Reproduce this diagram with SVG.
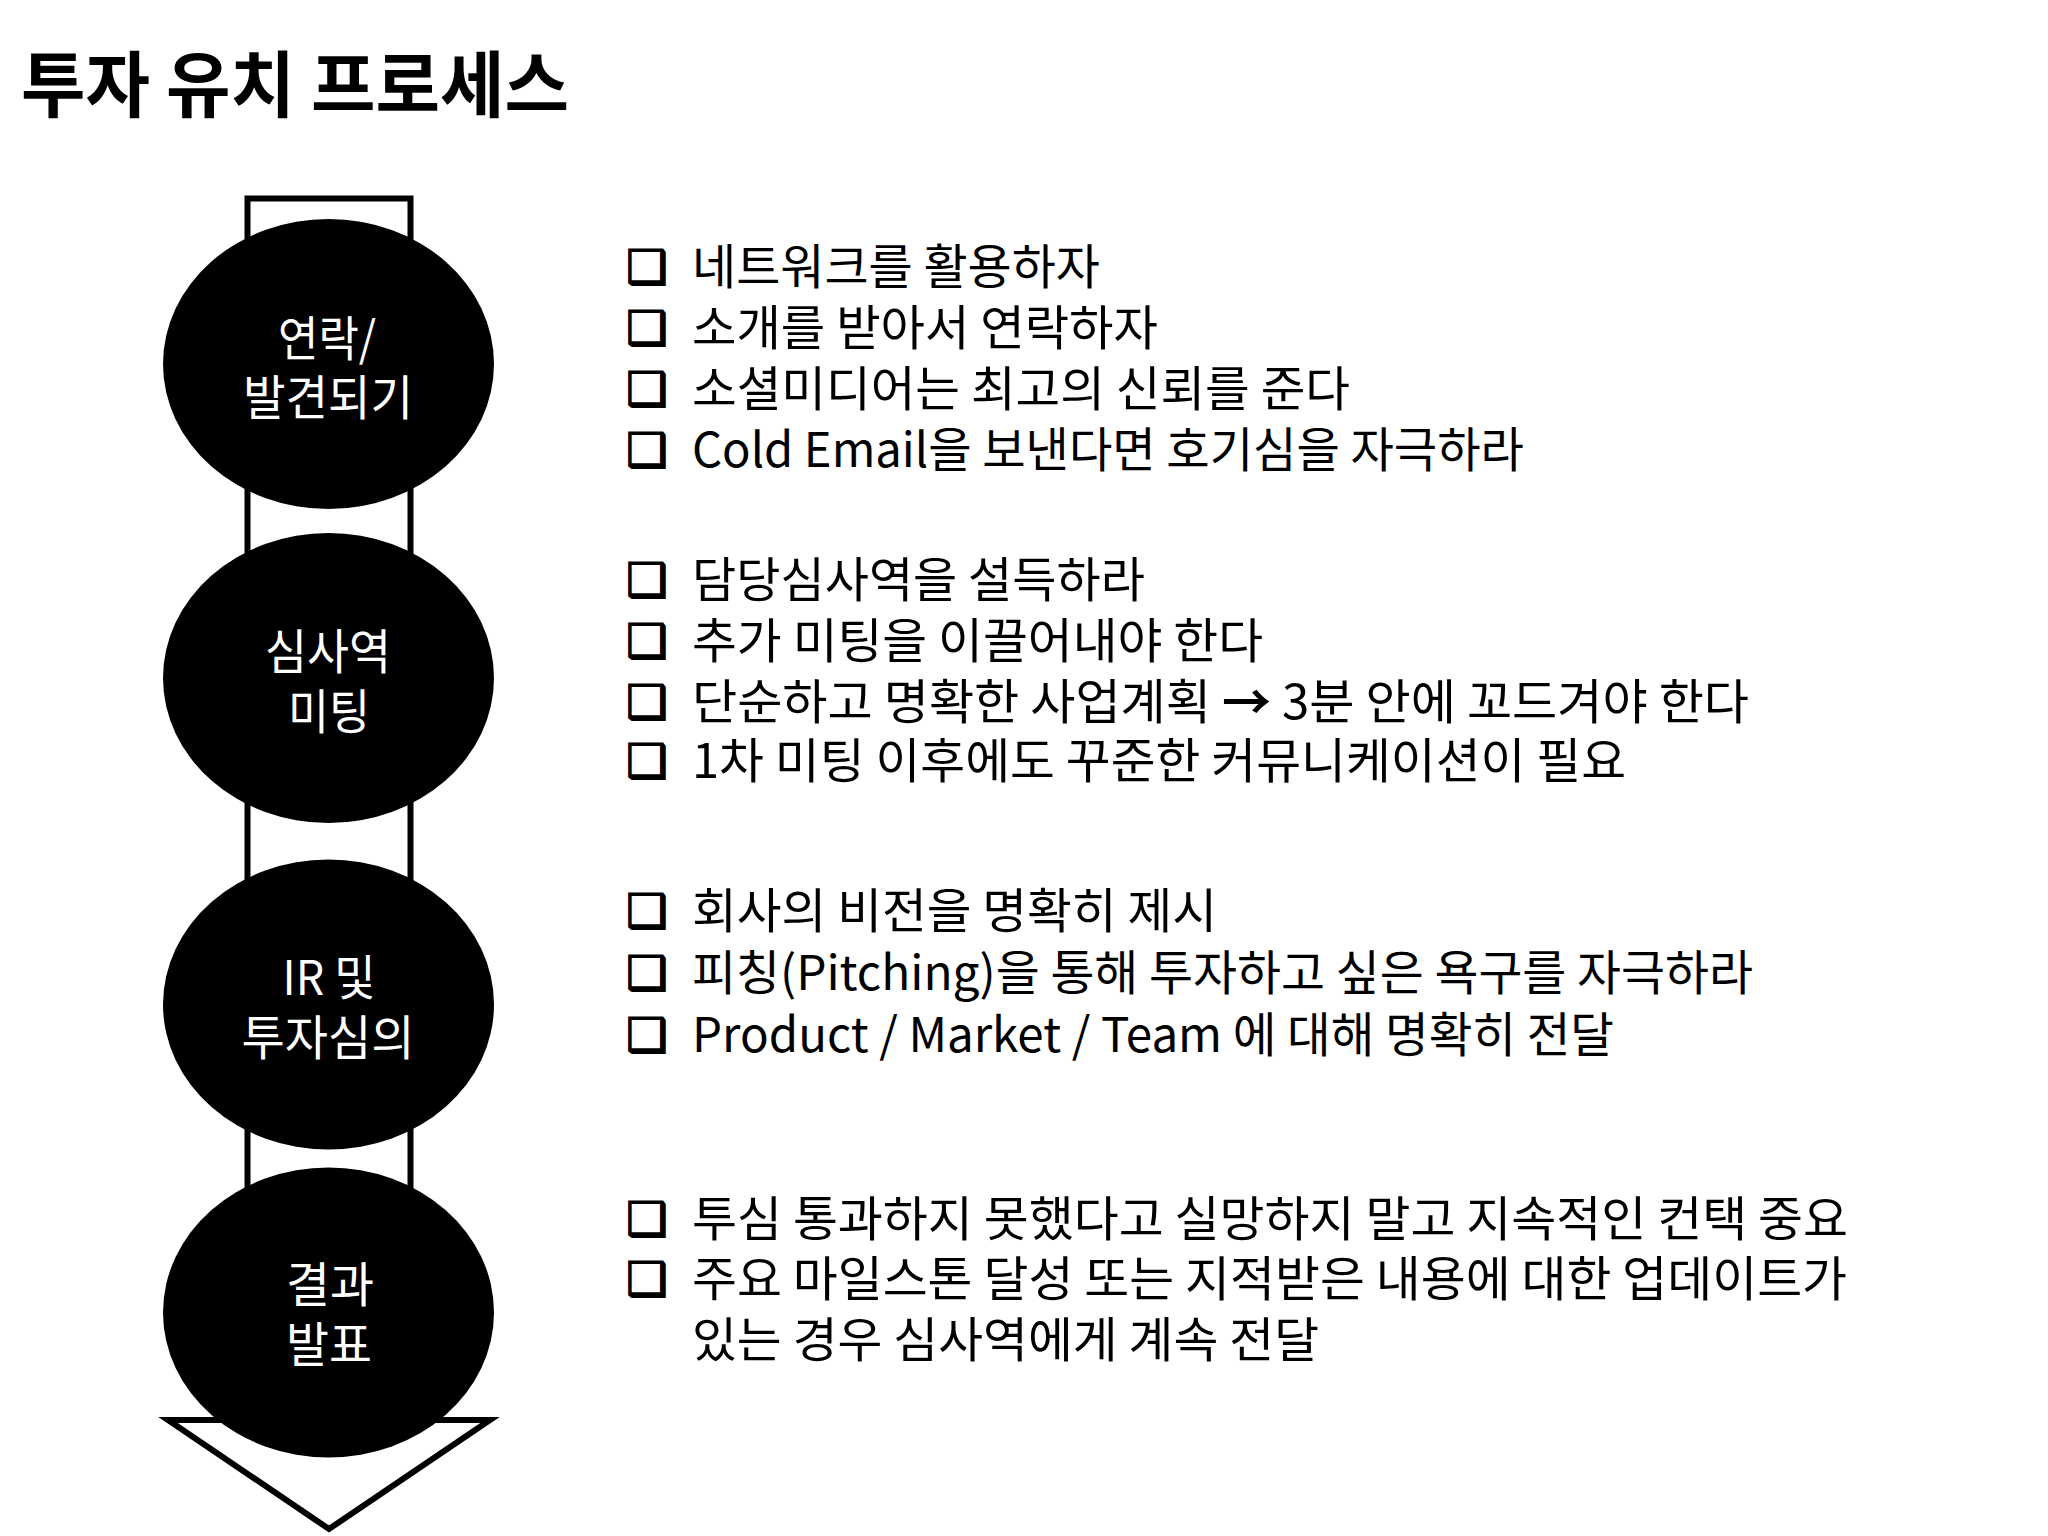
<svg xmlns="http://www.w3.org/2000/svg" width="2048" height="1536" viewBox="0 0 2048 1536">
<style>
.title{font-family:"Noto Sans CJK KR","Noto Sans",sans-serif;font-size:72px;font-weight:bold;fill:#000}
.node{fill:#000}
.nl{font-family:"Noto Sans CJK KR","Noto Sans",sans-serif;font-size:48px;fill:#fff;text-anchor:middle}
.bt{font-family:"Noto Sans CJK KR","Noto Sans",sans-serif;font-size:48px;fill:#000}
.cb{font-family:"DejaVu Sans",sans-serif;font-size:46px;fill:#000;stroke:#000;stroke-width:1.6}
.arrow{fill:#fff;stroke:#000;stroke-width:6;stroke-linejoin:miter}
</style>
<rect width="2048" height="1536" fill="#fff"/>
<text class="title" x="21" y="111" textLength="548" lengthAdjust="spacingAndGlyphs">투자 유치 프로세스</text>
<g id="connectors">
<path class="arrow" d="M247.5,198.5 L410.5,198.5 L410.5,1420 L490,1420 L329,1529 L168,1420 L247.5,1420 Z"/>
</g>
<g id="node1">
<ellipse class="node" cx="328.5" cy="364" rx="165.5" ry="145"/>
<text class="nl" x="327" y="356" textLength="98" lengthAdjust="spacingAndGlyphs">연락/</text>
<text class="nl" x="328" y="415" textLength="170" lengthAdjust="spacingAndGlyphs">발견되기</text>
</g>
<g id="node2">
<ellipse class="node" cx="328.5" cy="678" rx="165.5" ry="145"/>
<text class="nl" x="328" y="669" textLength="126" lengthAdjust="spacingAndGlyphs">심사역</text>
<text class="nl" x="329" y="729" textLength="82" lengthAdjust="spacingAndGlyphs">미팅</text>
</g>
<g id="node3">
<ellipse class="node" cx="328.5" cy="1004.5" rx="165.5" ry="145"/>
<text class="nl" x="329" y="995" textLength="93" lengthAdjust="spacingAndGlyphs">IR 및</text>
<text class="nl" x="328" y="1055" textLength="173" lengthAdjust="spacingAndGlyphs">투자심의</text>
</g>
<g id="node4">
<ellipse class="node" cx="328.5" cy="1312.5" rx="165.5" ry="145"/>
<text class="nl" x="330" y="1302" textLength="88" lengthAdjust="spacingAndGlyphs">결과</text>
<text class="nl" x="329" y="1362" textLength="86" lengthAdjust="spacingAndGlyphs">발표</text>
</g>
<g id="notes1">
<text class="cb" x="626" y="283">❑</text>
<text class="bt" x="692" y="284" textLength="408" lengthAdjust="spacingAndGlyphs">네트워크를 활용하자</text>
<text class="cb" x="626" y="344">❑</text>
<text class="bt" x="692" y="345" textLength="466" lengthAdjust="spacingAndGlyphs">소개를 받아서 연락하자</text>
<text class="cb" x="626" y="405">❑</text>
<text class="bt" x="692" y="406" textLength="658" lengthAdjust="spacingAndGlyphs">소셜미디어는 최고의 신뢰를 준다</text>
<text class="cb" x="626" y="466">❑</text>
<text class="bt" x="692" y="467" textLength="832" lengthAdjust="spacingAndGlyphs">Cold Email을 보낸다면 호기심을 자극하라</text>
</g>
<g id="notes2">
<text class="cb" x="626" y="596">❑</text>
<text class="bt" x="692" y="597" textLength="453" lengthAdjust="spacingAndGlyphs">담당심사역을 설득하라</text>
<text class="cb" x="626" y="657">❑</text>
<text class="bt" x="692" y="658" textLength="571" lengthAdjust="spacingAndGlyphs">추가 미팅을 이끌어내야 한다</text>
<text class="cb" x="626" y="718">❑</text>
<text class="bt" x="692" y="719" textLength="1057" lengthAdjust="spacingAndGlyphs">단순하고 명확한 사업계획 <tspan font-weight="bold">→</tspan> 3분 안에 꼬드겨야 한다</text>
<text class="cb" x="626" y="777">❑</text>
<text class="bt" x="692" y="778" textLength="934" lengthAdjust="spacingAndGlyphs">1차 미팅 이후에도 꾸준한 커뮤니케이션이 필요</text>
</g>
<g id="notes3">
<text class="cb" x="626" y="927">❑</text>
<text class="bt" x="692" y="928" textLength="525" lengthAdjust="spacingAndGlyphs">회사의 비전을 명확히 제시</text>
<text class="cb" x="626" y="989">❑</text>
<text class="bt" x="692" y="990" textLength="1061" lengthAdjust="spacingAndGlyphs">피칭(Pitching)을 통해 투자하고 싶은 욕구를 자극하라</text>
<text class="cb" x="626" y="1051">❑</text>
<text class="bt" x="692" y="1052" textLength="922" lengthAdjust="spacingAndGlyphs">Product / Market / Team 에 대해 명확히 전달</text>
</g>
<g id="notes4">
<text class="cb" x="626" y="1235">❑</text>
<text class="bt" x="692" y="1236" textLength="1156" lengthAdjust="spacingAndGlyphs">투심 통과하지 못했다고 실망하지 말고 지속적인 컨택 중요</text>
<text class="cb" x="626" y="1295">❑</text>
<text class="bt" x="692" y="1296" textLength="1155" lengthAdjust="spacingAndGlyphs">주요 마일스톤 달성 또는 지적받은 내용에 대한 업데이트가</text>
<text class="bt" x="692" y="1357" textLength="627" lengthAdjust="spacingAndGlyphs">있는 경우 심사역에게 계속 전달</text>
</g>
</svg>
